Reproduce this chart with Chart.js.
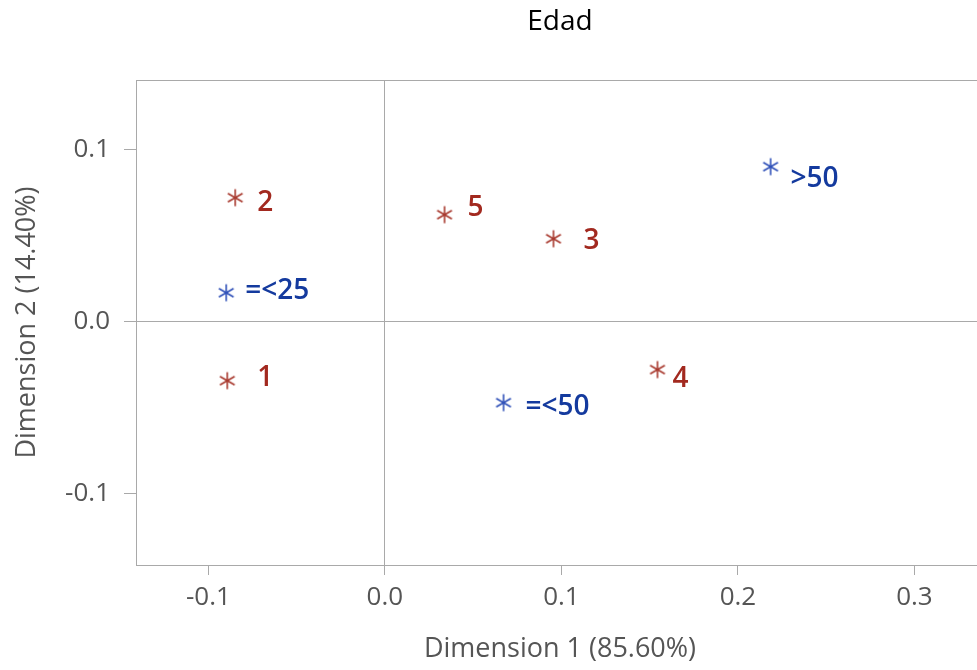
<!DOCTYPE html>
<html>
<head>
<meta charset="utf-8">
<script src="https://cdn.jsdelivr.net/npm/chart.js@4.4.1/dist/chart.umd.min.js"></script>
<style>
body { margin: 0; overflow: hidden; background: #fff; }
#wrap { width: 1120px; height: 670px; }
</style>
</head>
<body>
<div id="wrap"><canvas id="caChart" width="1120" height="670"></canvas></div>
<script>
// ------------------------------ DATA ------------------------------
// Row points
var rowLabels = ['1', '2', '3', '4', '5'];
var rowDim1 = [-0.0893, -0.0848, 0.0955, 0.1544, 0.0338];
var rowDim2 = [-0.0341, 0.0723, 0.0484, -0.0277, 0.0624];
// Column points (Edad)
var colLabels = ['=<25', '=<50', '>50'];
var colDim1 = [-0.0899, 0.0672, 0.2185];
var colDim2 = [0.0170, -0.0469, 0.0903];
// Tick labels
var xTicks = [-0.1, 0.0, 0.1, 0.2, 0.3];
var yTicks = [-0.1, 0.0, 0.1];
// ------------------------------ STYLE ------------------------------
var chartTitle = 'Edad';
var rowMarkColor = '#a8392e';
var rowTextColor = '#a2291f';
var colMarkColor = '#2f50b8';
var colTextColor = '#143a9e';
var axisColor = '#a9a9a9';
var textGray = '#555555';
var fontFam = "'Open Sans', 'Noto Sans', sans-serif";
// label offsets from the marker (px), like the SAS label placement
var rowLabelOffsets = [[30, -3], [22, 5], [30, 2], [15, 9], [23, -7]];
var colLabelOffsets = [[19, -2], [22, 4], [20, 12]];

// six-arm asterisk marker
function makeStar(color) {
    var c = document.createElement('canvas');
    c.width = 20; c.height = 20;
    var g = c.getContext('2d');
    g.strokeStyle = color;
    g.lineWidth = 1.6;
    var r = 8.5;
    [90, 30, 150].forEach(function (deg) {
        var a = deg * Math.PI / 180;
        g.beginPath();
        g.moveTo(10 + r * Math.cos(a), 10 - r * Math.sin(a));
        g.lineTo(10 - r * Math.cos(a), 10 + r * Math.sin(a));
        g.stroke();
    });
    return c;
}

function toPoints(xs, ys) {
    return xs.map(function (x, i) { return { x: x, y: ys[i] }; });
}

function zeroGrid(ctx) {
    return ctx.tick && Math.abs(ctx.tick.value) < 1e-9 ? axisColor : 'rgba(0,0,0,0)';
}

// frame, title and point labels
var caPlugin = {
    id: 'caPlugin',
    beforeDatasetsDraw: function (chart) {
        var a = chart.chartArea, g = chart.ctx;
        g.save();
        g.strokeStyle = axisColor;
        g.lineWidth = 1;
        g.strokeRect(Math.round(a.left) + 0.5, Math.round(a.top) + 0.5,
            Math.round(a.right - a.left), Math.round(a.bottom - a.top));
        g.restore();
    },
    afterDatasetsDraw: function (chart) {
        var g = chart.ctx, a = chart.chartArea;
        g.save();
        // title centred over the plot area
        g.textAlign = 'center';
        g.textBaseline = 'middle';
        g.fillStyle = '#000';
        g.font = '28px ' + fontFam;
        g.fillText(chartTitle, (a.left + a.right) / 2, 22);
        // point labels
        g.textAlign = 'left';
        g.font = '600 28px ' + fontFam;
        chart.data.datasets.forEach(function (ds, di) {
            var meta = chart.getDatasetMeta(di);
            g.fillStyle = ds.textColor;
            meta.data.forEach(function (pt, i) {
                var off = ds.labelOffsets[i];
                g.fillText(ds.pointLabels[i], pt.x + off[0], pt.y + off[1]);
            });
        });
        g.restore();
    }
};

var ctx = document.getElementById('caChart').getContext('2d');
var caChart = new Chart(ctx, {
    type: 'scatter',
    data: {
        datasets: [{
            label: 'Rows',
            data: toPoints(rowDim1, rowDim2),
            pointStyle: makeStar(rowMarkColor),
            pointRadius: 9,
            pointLabels: rowLabels,
            labelOffsets: rowLabelOffsets,
            textColor: rowTextColor
        }, {
            label: 'Columns',
            data: toPoints(colDim1, colDim2),
            pointStyle: makeStar(colMarkColor),
            pointRadius: 9,
            pointLabels: colLabels,
            labelOffsets: colLabelOffsets,
            textColor: colTextColor
        }]
    },
    options: {
        responsive: false,
        animation: false,
        layout: { padding: { left: 0, right: 136, top: 80, bottom: 0 } },
        plugins: {
            legend: { display: false },
            tooltip: { enabled: false },
            title: { display: false }
        },
        scales: {
            x: {
                type: 'linear',
                min: -0.141,
                max: 0.3394,
                afterBuildTicks: function (s) { s.ticks = xTicks.map(function (v) { return { value: v }; }); },
                afterFit: function (s) { s.height = 105; },
                border: { display: false },
                grid: { color: zeroGrid, tickColor: axisColor, tickLength: 10, lineWidth: 1 },
                ticks: {
                    callback: function (v) { return v.toFixed(1); },
                    color: textGray,
                    font: { family: fontFam, size: 26 },
                    padding: 7,
                    maxRotation: 0,
                    autoSkip: false
                },
                title: {
                    display: true,
                    text: 'Dimension 1 (85.60%)',
                    color: textGray,
                    font: { family: fontFam, size: 27 },
                    padding: { top: 0, bottom: 4 }
                }
            },
            y: {
                type: 'linear',
                min: -0.1413,
                max: 0.1407,
                afterBuildTicks: function (s) { s.ticks = yTicks.map(function (v) { return { value: v }; }); },
                afterFit: function (s) { s.width = 136; },
                border: { display: false },
                grid: { color: zeroGrid, tickColor: axisColor, tickLength: 12, lineWidth: 1 },
                ticks: {
                    callback: function (v) { return v.toFixed(1); },
                    color: textGray,
                    font: { family: fontFam, size: 26 },
                    padding: 14,
                    autoSkip: false
                },
                title: {
                    display: true,
                    text: 'Dimension 2 (14.40%)',
                    color: textGray,
                    font: { family: fontFam, size: 27 },
                    padding: { top: 11, bottom: 0 }
                }
            }
        }
    },
    plugins: [caPlugin]
});
</script>
</body>
</html>
